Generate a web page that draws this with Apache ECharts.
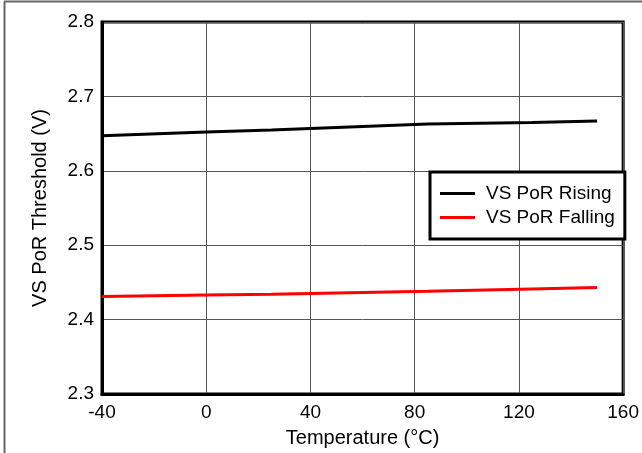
<!DOCTYPE html>
<html><head><meta charset="utf-8">
<script src="https://cdn.jsdelivr.net/npm/echarts@6/dist/echarts.min.js"></script>
<style>html,body{margin:0;padding:0;background:#fff}#c{width:642px;height:453px}</style>
</head><body><div id="c"></div>
<script>
const temps = [-40, 0, 25, 85, 125, 150];
const rising = [2.647, 2.652, 2.655, 2.663, 2.665, 2.667];
const falling = [2.431, 2.433, 2.434, 2.438, 2.441, 2.443];
const seriesNames = ['VS PoR Rising', 'VS PoR Falling'];
const xTitle = 'Temperature (°C)';
const yTitle = 'VS PoR Threshold (V)';

const font = 'Liberation Sans, Arial, sans-serif';
const chart = echarts.init(document.getElementById('c'), null, {renderer: 'canvas'});
chart.setOption({
  animation: false,
  backgroundColor: '#fff',
  graphic: [
    {type: 'line', shape: {x1: 4.5, y1: 1.5, x2: 4.5, y2: 453}, style: {stroke: '#666', lineWidth: 2}},
    {type: 'line', shape: {x1: 4, y1: 1.5, x2: 642, y2: 1.5}, style: {stroke: '#666', lineWidth: 2}}
  ],
  grid: {left: 102, right: 18, top: 22, bottom: 56, show: true, borderColor: '#000', borderWidth: 3, backgroundColor: 'transparent'},
  legend: {
    orient: 'vertical', left: 430, top: 172,
    icon: 'rect', itemWidth: 35, itemHeight: 3, itemGap: 5,
    borderColor: '#000', borderWidth: 3, borderRadius: 0,
    padding: [12, 10, 12, 10],
    textStyle: {fontFamily: font, fontSize: 19, color: '#000', padding: [0, 0, 0, 6]},
    backgroundColor: '#fff',
    data: seriesNames
  },
  xAxis: {
    type: 'value', min: -40, max: 160, interval: 40,
    name: xTitle, nameLocation: 'middle', nameGap: 34,
    nameTextStyle: {fontFamily: font, fontSize: 20, color: '#000'},
    axisLine: {show: true, onZero: false, lineStyle: {color: '#000', width: 3}},
    axisTick: {show: false},
    axisLabel: {fontFamily: font, fontSize: 19, color: '#000', margin: 9},
    splitLine: {show: true, lineStyle: {color: '#555', width: 1}}
  },
  yAxis: {
    type: 'value', min: 2.3, max: 2.8, interval: 0.1,
    name: yTitle, nameLocation: 'middle', nameGap: 52,
    nameTextStyle: {fontFamily: font, fontSize: 20, color: '#000'},
    axisLine: {show: true, onZero: false, lineStyle: {color: '#000', width: 3}},
    axisTick: {show: false},
    axisLabel: {fontFamily: font, fontSize: 19, color: '#000', margin: 8, formatter: v => v.toFixed(1)},
    splitLine: {show: true, lineStyle: {color: '#555', width: 1}}
  },
  series: [
    {name: seriesNames[0], type: 'line', data: temps.map((t, i) => [t, rising[i]]), showSymbol: false, lineStyle: {color: '#000', width: 3}, itemStyle: {color: '#000'}},
    {name: seriesNames[1], type: 'line', data: temps.map((t, i) => [t, falling[i]]), showSymbol: false, lineStyle: {color: '#ff0000', width: 3}, itemStyle: {color: '#ff0000'}}
  ]
});
</script></body></html>
